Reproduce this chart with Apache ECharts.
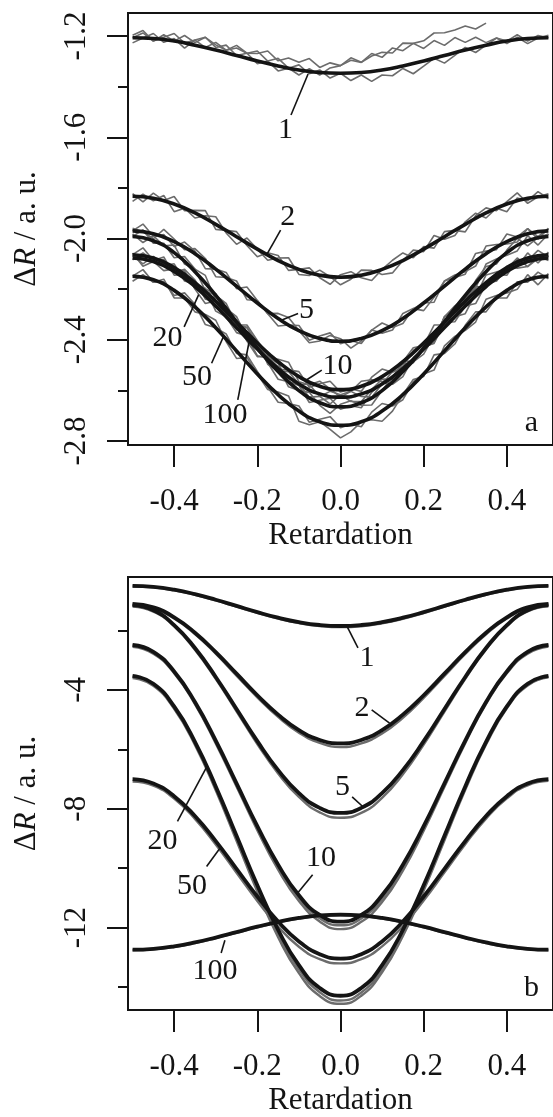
<!DOCTYPE html>
<html>
<head>
<meta charset="utf-8">
<script src="https://cdn.jsdelivr.net/npm/echarts@6/dist/echarts.min.js"></script>
<style>
  html, body { margin: 0; padding: 0; background: #ffffff; }
  #chart { width: 553px; height: 1117px; }
</style>
</head>
<body>
<div id="chart"></div>
<script>
// Retardation sampling: fitted curves every 0.05, measured traces every 0.025
const retardFit = [-0.5,-0.45,-0.4,-0.35,-0.3,-0.25,-0.2,-0.15,-0.1,-0.05,0,0.05,0.1,0.15,0.2,0.25,0.3,0.35,0.4,0.45,0.5];
const retardRaw = [-0.5,-0.475,-0.45,-0.425,-0.4,-0.375,-0.35,-0.325,-0.3,-0.275,-0.25,-0.225,-0.2,-0.175,-0.15,-0.125,-0.1,-0.075,-0.05,-0.025,0,0.025,0.05,0.075,0.1,0.125,0.15,0.175,0.2,0.225,0.25,0.275,0.3,0.325,0.35,0.375,0.4,0.425,0.45,0.475,0.5];

// Panel a: fitted curves
const fitA1   = [-1.207,-1.210,-1.220,-1.236,-1.255,-1.277,-1.299,-1.318,-1.334,-1.344,-1.347,-1.344,-1.334,-1.318,-1.299,-1.277,-1.255,-1.236,-1.220,-1.210,-1.207];
const fitA2   = [-1.833,-1.841,-1.864,-1.899,-1.944,-1.993,-2.042,-2.087,-2.122,-2.145,-2.153,-2.145,-2.122,-2.087,-2.042,-1.993,-1.944,-1.899,-1.864,-1.841,-1.833];
const fitA5   = [-1.970,-1.981,-2.012,-2.060,-2.121,-2.188,-2.255,-2.316,-2.364,-2.395,-2.406,-2.395,-2.364,-2.316,-2.255,-2.188,-2.121,-2.060,-2.012,-1.981,-1.970];
const fitA10  = [-2.064,-2.077,-2.115,-2.174,-2.248,-2.331,-2.413,-2.487,-2.546,-2.584,-2.597,-2.584,-2.546,-2.487,-2.413,-2.331,-2.248,-2.174,-2.115,-2.077,-2.064];
const fitA20  = [-2.077,-2.091,-2.130,-2.190,-2.267,-2.352,-2.437,-2.514,-2.575,-2.614,-2.627,-2.614,-2.575,-2.514,-2.437,-2.352,-2.267,-2.190,-2.130,-2.091,-2.077];
const fitA50  = [-2.149,-2.163,-2.205,-2.270,-2.353,-2.444,-2.535,-2.617,-2.682,-2.724,-2.738,-2.724,-2.682,-2.617,-2.535,-2.444,-2.353,-2.270,-2.205,-2.163,-2.149];
const fitA100 = [-1.992,-2.009,-2.056,-2.131,-2.225,-2.329,-2.433,-2.526,-2.601,-2.649,-2.665,-2.649,-2.601,-2.526,-2.433,-2.329,-2.225,-2.131,-2.056,-2.009,-1.992];

// Panel a: measured traces
const rawA1a = [-1.197,-1.178,-1.220,-1.195,-1.220,-1.198,-1.226,-1.205,-1.235,-1.256,-1.247,-1.268,-1.259,-1.299,-1.288,-1.327,-1.314,-1.349,-1.334,-1.366,-1.347,-1.376,-1.354,-1.379,-1.354,-1.357,-1.328,-1.349,-1.319,-1.288,-1.307,-1.276,-1.245,-1.265,-1.236,-1.208,-1.230,-1.205,-1.230,-1.208,-1.197];
const rawA1b = [-1.227,-1.208,-1.190,-1.225,-1.210,-1.248,-1.216,-1.245,-1.225,-1.256,-1.237,-1.268,-1.269,-1.259,-1.298,-1.287,-1.304,-1.289,-1.324,-1.306,-1.317,-1.286,-1.304,-1.269,-1.284,-1.247,-1.258,-1.229,-1.249,-1.218,-1.237,-1.206,-1.225,-1.205,-1.226,-1.208,-1.220,-1.195,-1.220,-1.198,-1.207];
const rawA1c = [-1.207,-1.188,-1.220,-1.205,-1.190,-1.228,-1.216,-1.205,-1.245,-1.236,-1.277,-1.268,-1.309,-1.299,-1.338,-1.327,-1.354,-1.329,-1.354,-1.326,-1.317,-1.296,-1.304,-1.279,-1.264,-1.267,-1.228,-1.229,-1.219,-1.188,-1.187,-1.176,-1.160,-1.172,-1.149];
const rawA2a = [-1.823,-1.855,-1.821,-1.850,-1.834,-1.890,-1.889,-1.890,-1.964,-1.968,-1.973,-2.028,-2.072,-2.056,-2.067,-2.126,-2.122,-2.116,-2.155,-2.181,-2.143,-2.131,-2.155,-2.166,-2.122,-2.086,-2.057,-2.076,-2.032,-2.038,-1.973,-1.968,-1.974,-1.910,-1.879,-1.890,-1.854,-1.820,-1.861,-1.835,-1.823];
const rawA2b = [-1.853,-1.825,-1.851,-1.830,-1.894,-1.880,-1.919,-1.910,-1.914,-1.978,-2.023,-1.998,-2.042,-2.086,-2.077,-2.076,-2.142,-2.146,-2.125,-2.151,-2.183,-2.161,-2.125,-2.126,-2.142,-2.136,-2.087,-2.046,-2.052,-1.988,-2.003,-1.988,-1.934,-1.900,-1.919,-1.880,-1.894,-1.840,-1.851,-1.815,-1.843];
const rawA5a = [-1.970,-1.943,-1.991,-1.984,-2.032,-2.014,-2.050,-2.119,-2.121,-2.134,-2.198,-2.192,-2.245,-2.297,-2.346,-2.342,-2.344,-2.402,-2.385,-2.373,-2.416,-2.403,-2.415,-2.362,-2.334,-2.352,-2.336,-2.277,-2.255,-2.252,-2.168,-2.144,-2.131,-2.109,-2.030,-2.024,-2.022,-2.014,-1.961,-2.003,-1.960];
const rawA5b = [-1.960,-1.973,-2.001,-1.964,-2.002,-2.044,-2.040,-2.079,-2.151,-2.154,-2.168,-2.242,-2.245,-2.297,-2.296,-2.312,-2.364,-2.412,-2.405,-2.383,-2.396,-2.433,-2.405,-2.362,-2.374,-2.362,-2.296,-2.277,-2.285,-2.232,-2.168,-2.154,-2.141,-2.059,-2.050,-2.044,-1.982,-1.994,-1.961,-1.993,-1.960];
const rawA10a = [-2.084,-2.057,-2.087,-2.073,-2.145,-2.142,-2.194,-2.200,-2.218,-2.299,-2.361,-2.352,-2.413,-2.472,-2.477,-2.489,-2.566,-2.578,-2.564,-2.594,-2.627,-2.604,-2.564,-2.558,-2.566,-2.549,-2.487,-2.432,-2.423,-2.342,-2.341,-2.309,-2.238,-2.190,-2.194,-2.142,-2.145,-2.083,-2.087,-2.047,-2.074];
const rawA10b = [-2.064,-2.037,-2.087,-2.083,-2.135,-2.122,-2.164,-2.240,-2.248,-2.269,-2.341,-2.342,-2.403,-2.462,-2.517,-2.519,-2.526,-2.588,-2.574,-2.564,-2.607,-2.594,-2.604,-2.548,-2.516,-2.529,-2.507,-2.442,-2.413,-2.402,-2.311,-2.279,-2.258,-2.230,-2.144,-2.132,-2.125,-2.113,-2.057,-2.097,-2.054];
const rawA20a = [-2.067,-2.100,-2.071,-2.107,-2.100,-2.168,-2.180,-2.197,-2.287,-2.309,-2.332,-2.405,-2.467,-2.467,-2.494,-2.566,-2.575,-2.577,-2.624,-2.654,-2.617,-2.604,-2.624,-2.627,-2.575,-2.526,-2.484,-2.487,-2.427,-2.415,-2.332,-2.309,-2.297,-2.217,-2.170,-2.168,-2.120,-2.077,-2.111,-2.080,-2.067];
const rawA20b = [-2.057,-2.110,-2.091,-2.127,-2.120,-2.128,-2.200,-2.257,-2.247,-2.309,-2.372,-2.385,-2.407,-2.497,-2.524,-2.526,-2.575,-2.627,-2.624,-2.604,-2.617,-2.644,-2.644,-2.597,-2.555,-2.556,-2.484,-2.487,-2.457,-2.385,-2.332,-2.329,-2.267,-2.257,-2.180,-2.168,-2.110,-2.117,-2.111,-2.070,-2.087];
const rawA50a = [-2.149,-2.123,-2.173,-2.171,-2.225,-2.215,-2.260,-2.340,-2.353,-2.377,-2.454,-2.460,-2.525,-2.587,-2.647,-2.652,-2.662,-2.726,-2.714,-2.704,-2.748,-2.734,-2.744,-2.686,-2.652,-2.662,-2.637,-2.567,-2.535,-2.520,-2.424,-2.387,-2.363,-2.330,-2.240,-2.225,-2.215,-2.201,-2.143,-2.183,-2.139];
const rawA50b = [-2.169,-2.143,-2.173,-2.161,-2.235,-2.235,-2.290,-2.300,-2.323,-2.407,-2.474,-2.470,-2.535,-2.597,-2.607,-2.622,-2.722,-2.736,-2.724,-2.754,-2.788,-2.764,-2.724,-2.716,-2.722,-2.682,-2.617,-2.557,-2.545,-2.460,-2.454,-2.417,-2.343,-2.290,-2.290,-2.235,-2.235,-2.171,-2.173,-2.133,-2.159];
const rawA100a = [-1.982,-2.016,-1.989,-2.029,-2.026,-2.101,-2.121,-2.146,-2.245,-2.276,-2.309,-2.391,-2.463,-2.471,-2.506,-2.586,-2.601,-2.608,-2.659,-2.691,-2.655,-2.641,-2.659,-2.658,-2.601,-2.546,-2.496,-2.491,-2.423,-2.401,-2.309,-2.276,-2.255,-2.166,-2.111,-2.101,-2.046,-1.999,-2.029,-1.996,-1.982];
const rawA100b = [-1.992,-1.966,-2.019,-2.019,-2.076,-2.071,-2.121,-2.206,-2.225,-2.256,-2.339,-2.351,-2.423,-2.491,-2.556,-2.566,-2.581,-2.648,-2.639,-2.631,-2.675,-2.661,-2.669,-2.608,-2.571,-2.576,-2.546,-2.471,-2.433,-2.411,-2.309,-2.266,-2.235,-2.196,-2.101,-2.081,-2.066,-2.049,-1.989,-2.026,-1.982];

// Panel b: fitted curves
const fitB1   = [-0.50,-0.533,-0.629,-0.778,-0.966,-1.175,-1.384,-1.572,-1.721,-1.817,-1.85,-1.817,-1.721,-1.572,-1.384,-1.175,-0.966,-0.778,-0.629,-0.533,-0.50];
const fitB2   = [-1.11,-1.225,-1.558,-2.077,-2.730,-3.455,-4.180,-4.833,-5.352,-5.685,-5.80,-5.685,-5.352,-4.833,-4.180,-3.455,-2.730,-2.077,-1.558,-1.225,-1.11];
const fitB5   = [-1.15,-1.321,-1.818,-2.591,-3.565,-4.645,-5.725,-6.699,-7.472,-7.969,-8.14,-7.969,-7.472,-6.699,-5.725,-4.645,-3.565,-2.591,-1.818,-1.321,-1.15];
const fitB10  = [-2.49,-2.718,-3.379,-4.409,-5.707,-7.145,-8.583,-9.881,-10.911,-11.572,-11.80,-11.572,-10.911,-9.881,-8.583,-7.145,-5.707,-4.409,-3.379,-2.718,-2.49];
const fitB20  = [-3.53,-3.793,-4.558,-5.748,-7.248,-8.91,-10.572,-12.072,-13.262,-14.027,-14.29,-14.027,-13.262,-12.072,-10.572,-8.91,-7.248,-5.748,-4.558,-3.793,-3.53];
const fitB50  = [-7.00,-7.148,-7.577,-8.245,-9.087,-10.02,-10.953,-11.795,-12.463,-12.892,-13.04,-12.892,-12.463,-11.795,-10.953,-10.02,-9.087,-8.245,-7.577,-7.148,-7.00];
const fitB100 = [-12.74,-12.711,-12.627,-12.497,-12.332,-12.15,-11.968,-11.803,-11.673,-11.589,-11.56,-11.589,-11.673,-11.803,-11.968,-12.15,-12.332,-12.497,-12.627,-12.711,-12.74];

// Panel b: measured traces
const rawB1   = [-0.52,-0.55,-0.65,-0.80,-0.99,-1.20,-1.41,-1.60,-1.75,-1.85,-1.89,-1.86,-1.76,-1.61,-1.42,-1.20,-0.99,-0.80,-0.65,-0.55,-0.51];
const rawB2   = [-1.15,-1.27,-1.60,-2.12,-2.78,-3.52,-4.25,-4.91,-5.44,-5.78,-5.92,-5.80,-5.47,-4.94,-4.27,-3.53,-2.79,-2.13,-1.60,-1.26,-1.14];
const rawB5   = [-1.20,-1.37,-1.86,-2.65,-3.63,-4.72,-5.82,-6.81,-7.60,-8.12,-8.30,-8.14,-7.63,-6.84,-5.84,-4.73,-3.63,-2.64,-1.86,-1.36,-1.19];
const rawB10a = [-2.55,-2.78,-3.44,-4.48,-5.80,-7.25,-8.72,-10.05,-11.10,-11.79,-12.05,-11.80,-11.14,-10.08,-8.74,-7.26,-5.79,-4.47,-3.44,-2.78,-2.54];
const rawB10b = [-2.50,-2.73,-3.40,-4.44,-5.75,-7.19,-8.65,-9.97,-11.00,-11.68,-11.92,-11.69,-11.03,-9.98,-8.65,-7.19,-5.74,-4.43,-3.40,-2.72,-2.49];
const rawB20a = [-3.60,-3.86,-4.64,-5.85,-7.38,-9.08,-10.78,-12.32,-13.53,-14.30,-14.56,-14.29,-13.50,-12.28,-10.75,-9.06,-7.36,-5.84,-4.62,-3.85,-3.58];
const rawB20b = [-3.55,-3.82,-4.60,-5.80,-7.32,-9.00,-10.68,-12.20,-13.40,-14.17,-14.45,-14.18,-13.40,-12.19,-10.67,-8.99,-7.30,-5.79,-4.59,-3.82,-3.56];
const rawB50  = [-7.08,-7.22,-7.66,-8.34,-9.20,-10.15,-11.10,-11.96,-12.64,-13.06,-13.20,-13.06,-12.63,-11.95,-11.09,-10.14,-9.19,-8.33,-7.65,-7.21,-7.06];
const rawB100 = [-12.76,-12.73,-12.65,-12.52,-12.35,-12.17,-11.99,-11.82,-11.69,-11.61,-11.58,-11.61,-11.69,-11.82,-11.99,-12.17,-12.35,-12.52,-12.65,-12.73,-12.76];

// Axis ticks
const ticksX = [-0.4, -0.2, 0, 0.2, 0.4];
const majorA = [-2.8, -2.4, -2.0, -1.6, -1.2];
const minorA = [-2.6, -2.2, -1.8, -1.4];
const majorB = [-12, -8, -4];
const minorB = [-14, -10, -6, -2];

// Curve tags (text anchor) and leader segments, in data units
const tagNames = ['1', '2', '5', '10', '20', '50', '100'];
const tagXA = [-0.132, -0.127, -0.082, -0.007, -0.416, -0.345, -0.278];
const tagYA = [-1.571, -1.914, -2.283, -2.504, -2.394, -2.546, -2.697];
const leadA = [[-0.119,-1.512,-0.078,-1.350],[-0.144,-1.967,-0.176,-2.060],[-0.102,-2.296,-0.141,-2.322],
               [-0.045,-2.520,-0.082,-2.559],[-0.376,-2.349,-0.341,-2.222],[-0.310,-2.493,-0.282,-2.390],[-0.247,-2.638,-0.220,-2.410]];
const tagXB = [0.064, 0.052, 0.005, -0.047, -0.428, -0.357, -0.302];
const tagYB = [-2.924, -4.605, -7.261, -9.657, -9.099, -10.612, -13.469];
const leadB = [[0.042,-2.588,0.016,-1.87],[0.075,-4.672,0.118,-5.12],[0.028,-7.597,0.054,-7.933],
               [-0.067,-10.218,-0.102,-10.82],[-0.392,-8.427,-0.322,-6.60],[-0.322,-9.94,-0.290,-9.33],[-0.287,-12.852,-0.278,-12.42]];
// Panel letters
const panelTags = [{ text: 'a', grid: 0, x: 0.459, y: -2.729 }, { text: 'b', grid: 1, x: 0.459, y: -14.02 }];

const FONT = 'Liberation Serif';
const INK = '#141414';
const GRAY = '#6c6c6c';

function pairs(xs, ys) { return ys.map((y, i) => [xs[i], y]); }

const series = [];
function addTrace(grid, ys, xs, width, smooth) {
  series.push({ type: 'line', xAxisIndex: grid, yAxisIndex: grid * 2, data: pairs(xs, ys),
    showSymbol: false, smooth: smooth, lineStyle: { color: GRAY, width: width }, z: 2, silent: true });
}
function addFit(grid, ys, width) {
  series.push({ type: 'line', xAxisIndex: grid, yAxisIndex: grid * 2, data: pairs(retardFit, ys),
    showSymbol: false, smooth: true, lineStyle: { color: INK, width: width }, z: 4, silent: true });
}
function addLeaders(grid, leads) {
  leads.forEach(s => series.push({ type: 'line', xAxisIndex: grid, yAxisIndex: grid * 2,
    data: [[s[0], s[1]], [s[2], s[3]]], showSymbol: false, lineStyle: { color: INK, width: 1.6 }, z: 5, silent: true }));
}

[rawA1a, rawA1b, rawA1c, rawA2a, rawA2b, rawA5a, rawA5b, rawA10a, rawA10b, rawA20a, rawA20b,
 rawA50a, rawA50b, rawA100a, rawA100b].forEach(r => addTrace(0, r, retardRaw, 1.6, false));
[fitA1, fitA2, fitA5, fitA10, fitA20, fitA50, fitA100].forEach(f => addFit(0, f, 3.6));
addLeaders(0, leadA);

[rawB1, rawB2, rawB5, rawB10a, rawB10b, rawB20a, rawB20b, rawB50, rawB100].forEach(r => addTrace(1, r, retardFit, 2.4, true));
[fitB1, fitB2, fitB5, fitB10, fitB20, fitB50, fitB100].forEach(f => addFit(1, f, 3.8));
addLeaders(1, leadB);

const tickLine = { color: INK, width: 2 };
function xAxisFor(grid) {
  return { type: 'value', gridIndex: grid, position: 'bottom', min: -0.511, max: 0.511,
    axisLine: { show: false, onZero: false }, splitLine: { show: false },
    axisTick: { show: true, length: 22, lineStyle: tickLine, customValues: ticksX },
    axisLabel: { customValues: ticksX, formatter: v => v.toFixed(1), fontFamily: FONT, fontSize: 31, color: INK, margin: 41 },
    name: 'Retardation', nameLocation: 'middle', nameGap: 75,
    nameTextStyle: { fontFamily: FONT, fontSize: 31, color: INK } };
}
const yName = '{d|Δ}{i|R}{d| / a. u.}';
const yNameStyle = { fontFamily: FONT, fontSize: 31, color: INK,
  rich: { d: { fontFamily: FONT, fontSize: 31, color: INK }, i: { fontFamily: FONT, fontSize: 31, fontStyle: 'italic', color: INK } } };
function yAxesFor(grid, min, max, major, minor, fmt) {
  return [
    { type: 'value', gridIndex: grid, position: 'left', min: min, max: max,
      axisLine: { show: false, onZero: false }, splitLine: { show: false },
      axisTick: { show: true, length: 21, lineStyle: tickLine, customValues: major },
      axisLabel: { customValues: major, rotate: 90, formatter: fmt, fontFamily: FONT, fontSize: 31, color: INK, margin: 36 },
      name: yName, nameLocation: 'middle', nameRotate: 90, nameGap: 86, nameTextStyle: yNameStyle },
    { type: 'value', gridIndex: grid, position: 'left', offset: 0, min: min, max: max,
      axisLine: { show: false, onZero: false }, splitLine: { show: false }, axisLabel: { show: false },
      axisTick: { show: true, length: 10, lineStyle: tickLine, customValues: minor } }
  ];
}

const chart = echarts.init(document.getElementById('chart'), null, { renderer: 'canvas' });
chart.setOption({
  animation: false,
  backgroundColor: '#ffffff',
  grid: [
    { left: 128, top: 13, width: 434, height: 432, show: true, borderColor: INK, borderWidth: 2, backgroundColor: 'transparent' },
    { left: 128, top: 577, width: 434, height: 433.5, show: true, borderColor: INK, borderWidth: 2, backgroundColor: 'transparent' }
  ],
  xAxis: [xAxisFor(0), xAxisFor(1)],
  yAxis: [
    ...yAxesFor(0, -2.816, -1.109, majorA, minorA, v => v.toFixed(1)),
    ...yAxesFor(1, -14.77, -0.202, majorB, minorB, v => String(Math.round(v)))
  ],
  series: series
});

// Curve tags and panel letters, placed through the axes' own scales
function tagText(grid, text, x, y) {
  const p = chart.convertToPixel({ xAxisIndex: grid, yAxisIndex: grid * 2 }, [x, y]);
  return { type: 'text', x: p[0], y: p[1], z: 100, silent: true,
    style: { text: text, fill: INK, font: '30px "' + FONT + '"', align: 'center', verticalAlign: 'middle' } };
}
const tagGraphics = [];
tagNames.forEach((n, i) => tagGraphics.push(tagText(0, n, tagXA[i], tagYA[i])));
tagNames.forEach((n, i) => tagGraphics.push(tagText(1, n, tagXB[i], tagYB[i])));
panelTags.forEach(t => tagGraphics.push(tagText(t.grid, t.text, t.x, t.y)));
chart.setOption({ graphic: tagGraphics });
</script>
</body>
</html>
